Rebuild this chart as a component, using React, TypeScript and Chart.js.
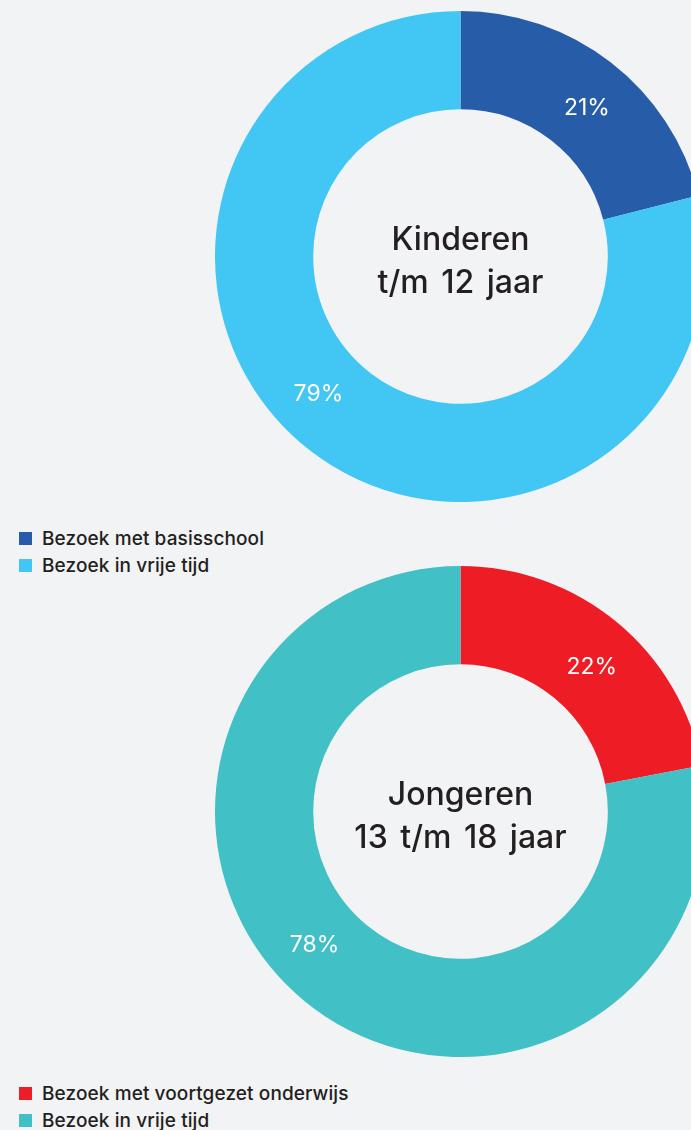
import React, { useEffect, useRef } from "react";
import { Chart, registerables } from "chart.js";

Chart.register(...registerables);

const chart1Labels = ["Bezoek met basisschool", "Bezoek in vrije tijd"];
const chart1Values = [21, 79];
const chart1Colors = ["#275CA9", "#42C7F4"];
const chart1Title = ["Kinderen", "t/m 12 jaar"];

const chart2Labels = ["Bezoek met voortgezet onderwijs", "Bezoek in vrije tijd"];
const chart2Values = [22, 78];
const chart2Colors = ["#EE1D25", "#41C0C5"];
const chart2Title = ["Jongeren", "13 t/m 18 jaar"];

const FONT = "Inter, 'Noto Sans', sans-serif";
const TEXT = "#231F20";
const BG = "#F2F3F5";

const donutTextPlugin = {
  id: "donutText",
  afterDatasetsDraw(chart: any, _args: any, opts: any) {
    const ctx = chart.ctx;
    const meta = chart.getDatasetMeta(0);
    const values = chart.data.datasets[0].data as number[];
    ctx.save();
    // slice labels
    ctx.fillStyle = "#FFFFFF";
    ctx.font = `23px ${FONT}`;
    ctx.textAlign = "center";
    ctx.textBaseline = "middle";
    meta.data.forEach((arc: any, i: number) => {
      const p = arc.getProps(["x", "y", "startAngle", "endAngle", "innerRadius", "outerRadius"], true);
      const a = p.startAngle + 0.53 * (p.endAngle - p.startAngle);
      const r = (p.innerRadius + p.outerRadius) / 2;
      ctx.fillText(`${values[i]}%`, p.x + Math.cos(a) * r, p.y + Math.sin(a) * r + 2);
    });
    // center title
    const first: any = meta.data[0];
    const cx = first.x;
    const cy = first.y;
    ctx.fillStyle = TEXT;
    ctx.font = `500 32px ${FONT}`;
    try {
      (ctx as any).wordSpacing = "4px";
    } catch (e) {}
    ctx.textBaseline = "alphabetic";
    const lines: string[] = opts.lines || [];
    ctx.fillText(lines[0], cx, cy - 6.5);
    ctx.fillText(lines[1], cx, cy + 36.5);
    ctx.restore();
  },
};

function Donut(props: { labels: string[]; values: number[]; colors: string[]; title: string[]; top: number }) {
  const ref = useRef<HTMLCanvasElement | null>(null);
  useEffect(() => {
    if (!ref.current) return;
    const chart = new Chart(ref.current, {
      type: "doughnut",
      data: {
        labels: props.labels,
        datasets: [
          {
            data: props.values,
            backgroundColor: props.colors,
            borderWidth: 0,
            hoverOffset: 0,
          },
        ],
      },
      options: {
        responsive: false,
        animation: false,
        cutout: "60%",
        layout: { padding: 0 },
        events: [],
        plugins: {
          legend: { display: false },
          tooltip: { enabled: false },
          donutText: { lines: props.title },
        } as any,
      },
      plugins: [donutTextPlugin],
    });
    return () => chart.destroy();
  }, []);
  return (
    <div style={{ position: "absolute", left: 215, top: props.top, width: 491, height: 491 }}>
      <canvas ref={ref} width={491} height={491} style={{ width: 491, height: 491, display: "block" }} />
    </div>
  );
}

function Legend(props: { labels: string[]; colors: string[]; top: number }) {
  return (
    <div
      style={{
        position: "absolute",
        left: 19,
        top: props.top,
        fontFamily: FONT,
        fontSize: 19,
        fontWeight: 500,
        letterSpacing: 0.1,
        color: TEXT,
      }}
    >
      {props.labels.map((l, i) => (
        <div key={i} style={{ display: "flex", alignItems: "center", height: 27, whiteSpace: "nowrap" }}>
          <span style={{ display: "inline-block", width: 13, height: 13, background: props.colors[i], marginRight: 10 }} />
          <span>{l}</span>
        </div>
      ))}
    </div>
  );
}

export default function App() {
  return (
    <div style={{ position: "fixed", left: 0, top: 0, width: 691, height: 1130, overflow: "hidden", background: BG }}>
      <Donut labels={chart1Labels} values={chart1Values} colors={chart1Colors} title={chart1Title} top={11} />
      <Legend labels={chart1Labels} colors={chart1Colors} top={525} />
      <Donut labels={chart2Labels} values={chart2Values} colors={chart2Colors} title={chart2Title} top={566} />
      <Legend labels={chart2Labels} colors={chart2Colors} top={1080} />
    </div>
  );
}
